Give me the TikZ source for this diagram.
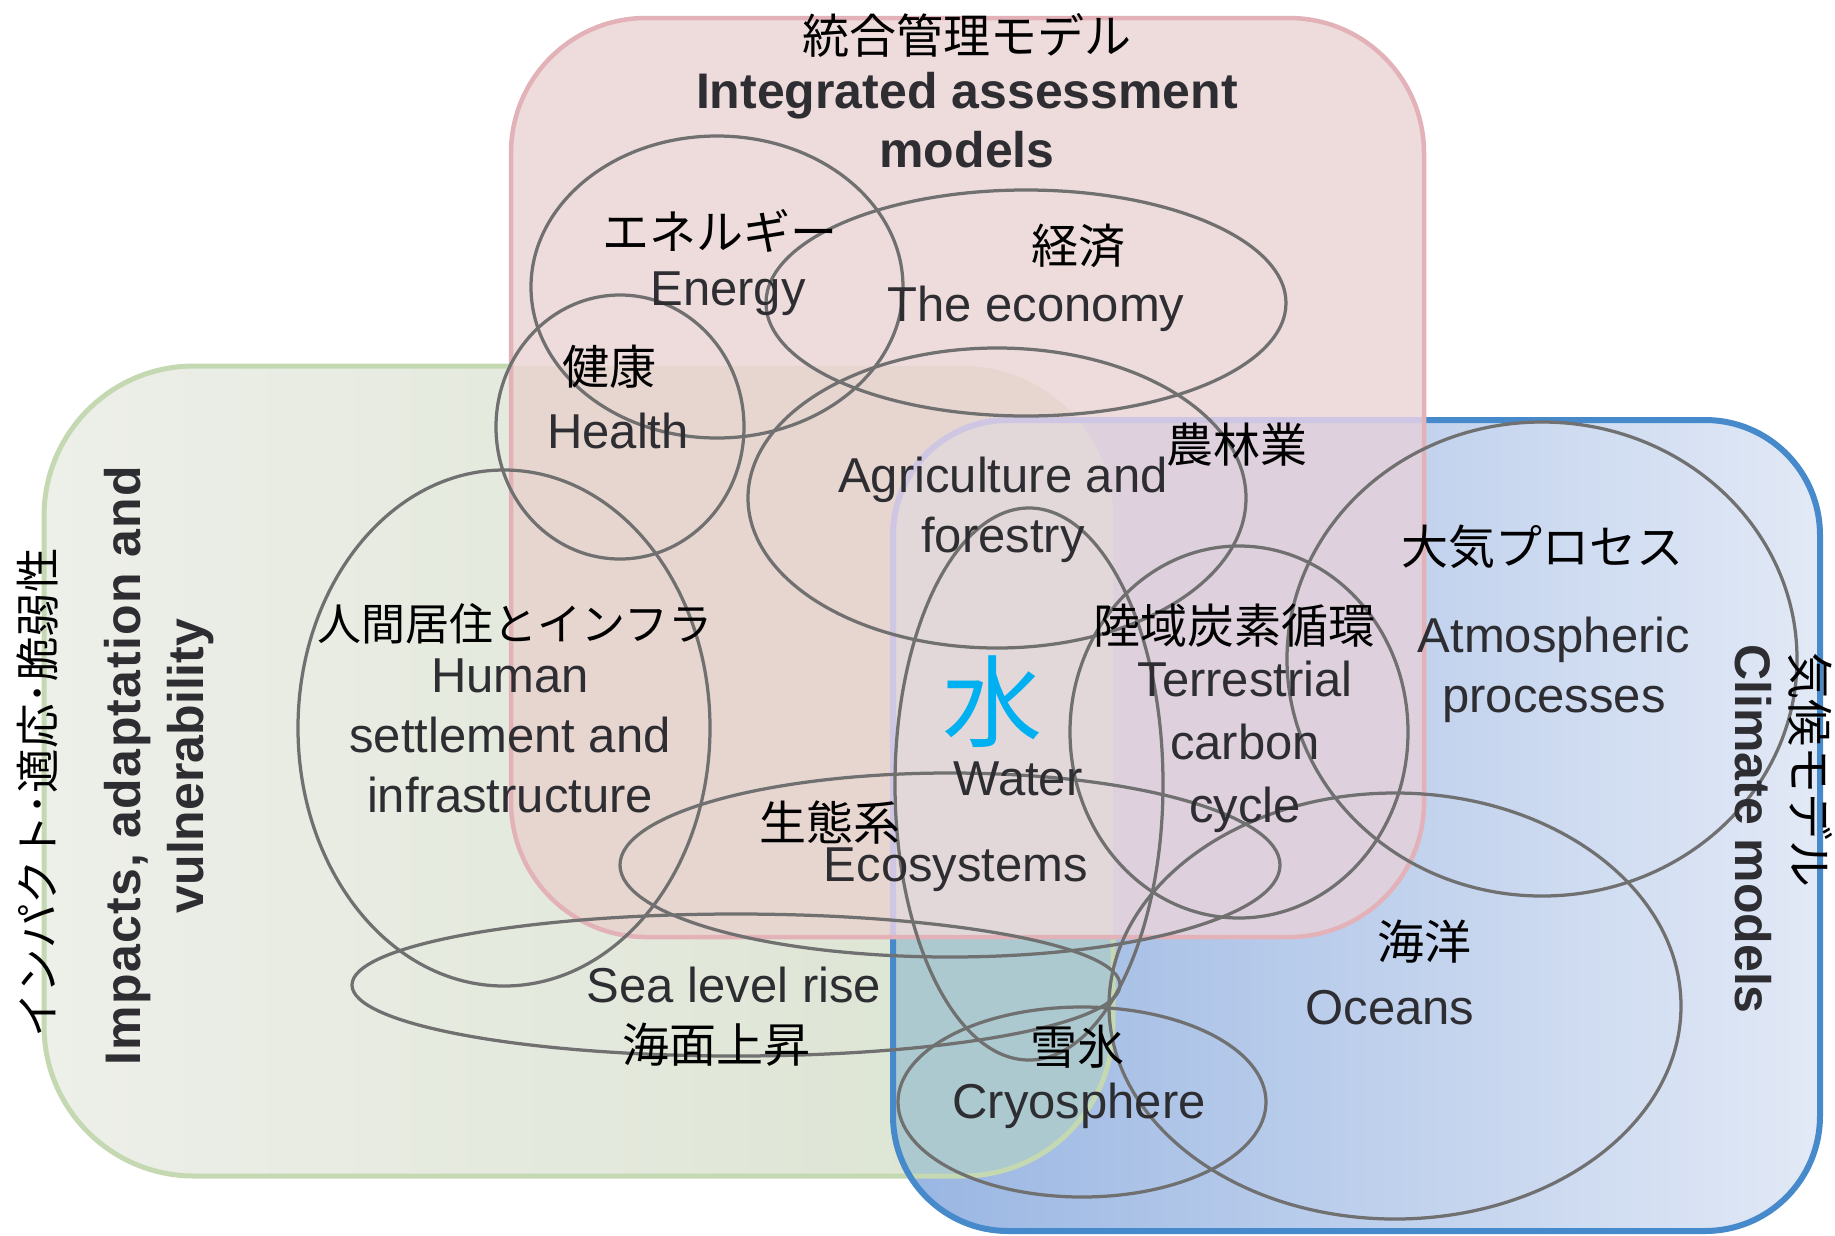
\documentclass[tikz,border=0pt]{standalone}
\usepackage{fontspec}
\setmainfont{Liberation Sans}
\newfontfamily\jp{Noto Sans CJK JP}
\definecolor{pinkfill}{RGB}{238,220,220}
\definecolor{pinkgreen}{RGB}{231,214,208}
\definecolor{pinkblue}{RGB}{222,209,221}
\definecolor{pinkbluegreen}{RGB}{226,216,217}
\definecolor{pinkedge}{RGB}{226,178,184}
\definecolor{greenL}{RGB}{237,239,233}
\definecolor{greenR}{RGB}{218,227,208}
\definecolor{greenedge}{RGB}{196,216,178}
\definecolor{blueL}{RGB}{152,181,226}
\definecolor{blueR}{RGB}{226,233,246}
\definecolor{blueedge}{RGB}{70,138,204}
\definecolor{tealfill}{RGB}{172,201,207}
\definecolor{lineg}{RGB}{112,112,112}
\definecolor{entext}{RGB}{45,45,50}
\definecolor{mizu}{RGB}{0,176,240}
\definecolor{bluefaint}{RGB}{206,198,226}
\tikzset{
  jpl/.style={font=\jp\fontsize{18.8}{22}\selectfont, text=black, inner sep=0pt},
  enl/.style={font=\fontsize{19.6}{24}\selectfont, text=entext, inner sep=0pt, align=center},
  ttl/.style={font=\bfseries\fontsize{20}{23.6}\selectfont, text=entext, inner sep=0pt, align=center},
  venn/.style={draw=lineg, line width=1.3pt},
  pinkbox/.style={rounded corners=54pt},
  greenbox/.style={rounded corners=60pt},
  bluebox/.style={rounded corners=46pt}
}
\begin{document}
\begin{tikzpicture}[x=0.4pt,y=-0.4pt]
\fill[white] (0,0) rectangle (1835,1235);
\useasboundingbox (0,0) rectangle (1835,1235);
% green box
\shade[left color=greenL, right color=greenR, greenbox] (44,366) rectangle (1113,1176);
% blue box
\shade[left color=blueL, right color=blueR, bluebox] (893,420) rectangle (1820,1231);
\begin{scope}
  \clip[greenbox] (44,366) rectangle (1113,1176);
  \fill[tealfill, bluebox] (893,420) rectangle (1820,1231);
\end{scope}
\draw[greenedge, line width=2pt, greenbox] (44,366) rectangle (1113,1176);
\draw[blueedge, line width=2.4pt, bluebox] (893,420) rectangle (1820,1231);
% pink box
\fill[pinkfill, pinkbox] (511,18) rectangle (1424,937);
\begin{scope}
  \clip[pinkbox] (511,18) rectangle (1424,937);
  \fill[pinkgreen, greenbox] (44,366) rectangle (1113,1176);
  \fill[pinkblue, bluebox] (893,420) rectangle (1820,1231);
  \clip[greenbox] (44,366) rectangle (1113,1176);
  \fill[pinkbluegreen, bluebox] (893,420) rectangle (1820,1231);
\end{scope}
\begin{scope}
  \clip[pinkbox] (511,18) rectangle (1424,937);
  \draw[bluefaint, line width=2.4pt, bluebox] (893,420) rectangle (1820,1231);
\end{scope}
\draw[pinkedge, line width=1.8pt, pinkbox] (511,18) rectangle (1424,937);

% ellipses
\draw[venn] (717,287) ellipse [x radius=74.4pt, y radius=60.4pt];   % energy
\draw[venn] (1026,303) ellipse [x radius=104pt, y radius=45.2pt];   % economy
\draw[venn] (620,427) ellipse [x radius=49.6pt, y radius=52.8pt];   % health
\draw[venn] (997,498) ellipse [x radius=99.6pt, y radius=60pt];     % agriculture
\draw[venn] (504,728) ellipse [x radius=82.4pt, y radius=103.2pt];  % human
\draw[venn] (1029,784) ellipse [x radius=53.6pt, y radius=110.4pt]; % water
\draw[venn] (1239,732) ellipse [x radius=67.6pt, y radius=74.4pt];  % terrestrial
\draw[venn] (1542,659) ellipse [x radius=102pt, y radius=94.8pt];   % atmospheric
\draw[venn] (1395,1006) ellipse [x radius=114.4pt, y radius=85.2pt];% oceans
\draw[venn] (950,865) ellipse [x radius=132pt, y radius=36.8pt];    % ecosystems
\draw[venn] (736,985) ellipse [x radius=153.6pt, y radius=28.4pt];  % sea level
\draw[venn] (1082,1102) ellipse [x radius=73.6pt, y radius=38pt];   % cryosphere

% titles
\node[jpl] (iamjp) at (967,35) {統合管理モデル};
\node[ttl] (iamen) at (967,120) {Integrated assessment\\models};
\node[jpl, font=\jp\fontsize{17.8}{22}\selectfont, rotate=90] (iavjp) at (37,793) {インパクト･適応･脆弱性};
\node[ttl, rotate=90, font=\bfseries\fontsize{20}{25}\selectfont] (iaven) at (159,766) {\addfontfeatures{LetterSpace=2.7}Impacts, adaptation and\\vulnerability};
\node[jpl, rotate=-90] (cmjp) at (1810,770) {気候モデル};
\node[ttl, rotate=-90] (cmen) at (1753,829) {Climate models};

% labels
\node[jpl] (enjp) at (720,231) {エネルギー};
\node[enl] (enen) at (728,294) {Energy};
\node[jpl] (ecjp) at (1078,246) {経済};
\node[enl] (ecen) at (1036,309) {The economy};
\node[jpl] (hejp) at (609,367) {健康};
\node[enl] (heen) at (618,431) {Health};
\node[jpl] (agjp) at (1237,445) {農林業};
\node[enl] (agen) at (1003,510) {Agriculture and\\forestry};
\node[jpl] (atjp) at (1542,547) {大気プロセス};
\node[enl] (aten) at (1554,670) {Atmospheric\\processes};
\node[jpl] (tcjp) at (1234,626) {陸域炭素循環};
\node[enl, font=\fontsize{19.6}{25.2}\selectfont] (tcen) at (1245,747) {Terrestrial\\carbon\\cycle};
\node[jpl, font=\jp\fontsize{17.6}{22}\selectfont] (hsjp) at (515,624) {人間居住とインフラ};
\node[enl] (hsen) at (510,736) {Human\\settlement and\\infrastructure};
\node[inner sep=0pt, text=mizu, font=\jp\fontsize{40}{44}\selectfont] (wajp) at (992,702) {水};
\node[enl] (waen) at (1018,779) {Water};
\node[jpl] (esjp) at (830,823) {生態系};
\node[enl] (esen) at (956,870) {Ecosystems};
\node[enl] (slen) at (734,985) {Sea level rise};
\node[jpl] (sljp) at (716,1045) {海面上昇};
\node[jpl] (ocjp) at (1424,942) {海洋};
\node[enl] (ocen) at (1390,1008) {Oceans};
\node[jpl] (crjp) at (1077,1047) {雪氷};
\node[enl] (cren) at (1079,1106) {Cryosphere};
\end{tikzpicture}
\end{document}
